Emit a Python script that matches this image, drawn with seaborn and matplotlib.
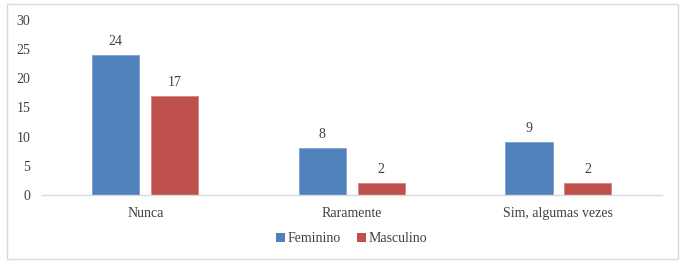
import matplotlib
matplotlib.use("Agg")
import matplotlib.pyplot as plt
import seaborn as sns
import pandas as pd
from matplotlib.patches import Rectangle

categories = ["Nunca", "Raramente", "Sim, algumas vezes"]
feminino = [24, 8, 9]
masculino = [17, 2, 2]
series = ["Feminino", "Masculino"]

df = pd.DataFrame({
    "cat": categories * 2,
    "val": feminino + masculino,
    "sexo": [series[0]] * 3 + [series[1]] * 3,
})

sns.set_style("white")
plt.rcParams["font.family"] = ["Liberation Serif", "DejaVu Serif"]

fig = plt.figure(figsize=(6.84, 2.63), dpi=100)
ax = fig.add_axes([0.0614, 0.259, 0.906, 0.665])
sns.barplot(data=df, x="cat", y="val", hue="sexo", order=categories,
            hue_order=series, palette=["#4F81BD", "#C0504D"],
            width=0.57, gap=0.2, ax=ax, legend=True, errorbar=None,
            saturation=1, linewidth=0.6, edgecolor="#7FA3D0")
for p in ax.containers[1]:
    p.set_edgecolor("#D98583")

for cont in ax.containers:
    ax.bar_label(cont, padding=5, fontsize=10, color="#404040")

ax.set_ylim(0, 30)
ax.set_yticks(range(0, 31, 5))
ax.set_xlim(-0.5, 2.5)
ax.set_xlabel("")
ax.set_ylabel("")
for s in ["top", "right", "left"]:
    ax.spines[s].set_visible(False)
ax.spines["bottom"].set_color("#D9D9D9")
ax.spines["bottom"].set_linewidth(1)
ax.tick_params(axis="both", length=0, labelsize=10, colors="#404040")
ax.tick_params(axis="x", pad=9)
ax.tick_params(axis="y", pad=8.5)

leg = ax.legend(loc="center", bbox_to_anchor=(0.5, -0.25), ncol=2,
                frameon=False, fontsize=10, handlelength=0.6,
                handleheight=0.6, handletextpad=0.2, columnspacing=1.2)
for t in leg.get_texts():
    t.set_color("#404040")
for h in leg.legend_handles:
    h.set_linewidth(0)

fig.patches.append(Rectangle((0.0102, 0.0152), 0.981, 0.9696, transform=fig.transFigure,
                             fill=False, edgecolor="#D9D9D9", linewidth=1))

fig.savefig("out.png", dpi=100)
